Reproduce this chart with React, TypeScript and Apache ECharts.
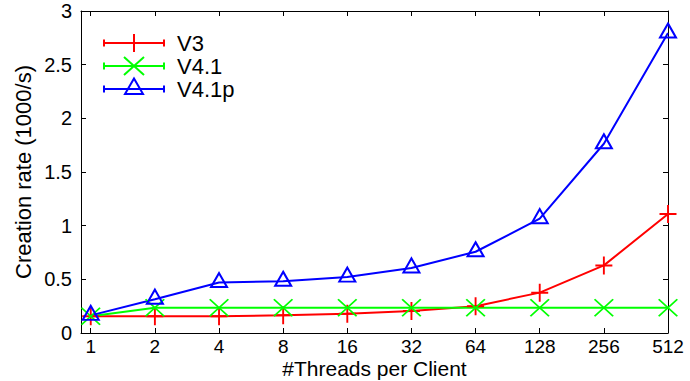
import React, { useEffect, useRef } from "react";
import * as echarts from "echarts";

// Thread counts per client (x) and creation rates in 1000/s (y)
const threads = [1, 2, 4, 8, 16, 32, 64, 128, 256, 512];
const v3 = [0.155, 0.155, 0.155, 0.165, 0.18, 0.205, 0.25, 0.376, 0.63, 1.108];
const v41 = [0.155, 0.235, 0.235, 0.235, 0.235, 0.235, 0.235, 0.235, 0.235, 0.235];
const v41p = [0.164, 0.315, 0.47, 0.482, 0.521, 0.606, 0.757, 1.065, 1.763, 2.795];
const seriesNames = ["V3", "V4.1", "V4.1p"];
const seriesColors = ["#ff0000", "#00ff00", "#0000ff"];

const FONT = "Liberation Sans, Arial, sans-serif";

// x is drawn on a log2 scale: tick positions are the exponents of the thread counts
const xTickValues = threads.map((t) => Math.log2(t));
const X_MIN = Math.log2(0.9);
const X_MAX = Math.log2(512);

// filled-path markers (gnuplot style plus and cross)
const PLUS = "path://M8,0H10V18H8Z M0,8H18V10H0Z";
const CROSS = "path://M0,1L1.4,0L20,17L18.6,18Z M18.6,0L20,1L1.4,18L0,17Z";

const toPoints = (vals: number[]) => threads.map((t, i) => [Math.log2(t), vals[i]]);

function legendGraphics() {
  const rows = [43, 66, 89];
  const els: any[] = [];
  rows.forEach((y, i) => {
    const c = seriesColors[i];
    const lineStyle = { stroke: c, lineWidth: 2 };
    els.push({ type: "line", shape: { x1: 104, y1: y, x2: 164, y2: y }, style: lineStyle });
    els.push({ type: "line", shape: { x1: 104, y1: y - 3.5, x2: 104, y2: y + 3.5 }, style: lineStyle });
    els.push({ type: "line", shape: { x1: 164, y1: y - 3.5, x2: 164, y2: y + 3.5 }, style: lineStyle });
    if (i === 0) {
      els.push({ type: "line", shape: { x1: 134, y1: y - 9, x2: 134, y2: y + 9 }, style: lineStyle });
      els.push({ type: "line", shape: { x1: 125, y1: y, x2: 143, y2: y }, style: lineStyle });
    } else if (i === 1) {
      els.push({ type: "line", shape: { x1: 124, y1: y - 9, x2: 144, y2: y + 9 }, style: lineStyle });
      els.push({ type: "line", shape: { x1: 124, y1: y + 9, x2: 144, y2: y - 9 }, style: lineStyle });
    } else {
      els.push({
        type: "polygon",
        shape: { points: [[134, y - 10.5], [125, y + 5], [143, y + 5]] },
        style: { stroke: c, lineWidth: 2, fill: "none" },
      });
    }
    els.push({
      type: "text",
      x: 177,
      y,
      style: {
        text: seriesNames[i],
        fontSize: 22,
        lineHeight: 20,
        fontFamily: FONT,
        fill: "#000",
        verticalAlign: "middle",
        align: "left",
      },
    });
  });
  return els;
}

export default function App() {
  const ref = useRef<HTMLDivElement>(null);

  useEffect(() => {
    if (!ref.current) return;
    const chart = echarts.init(ref.current, undefined, { renderer: "svg" });

    const axisLine = { show: true, onZero: false, lineStyle: { color: "#000", width: 1 } };
    const tickStyle = { color: "#000", width: 1 };
    const labelStyle = { color: "#000", fontFamily: FONT, fontSize: 20 };
    const nameStyle = { color: "#000", fontFamily: FONT, fontSize: 22 };

    const xBase = {
      type: "value",
      min: X_MIN,
      max: X_MAX,
      axisLine,
      splitLine: { show: false },
    };
    const yBase = {
      type: "value",
      min: 0,
      max: 3,
      interval: 0.5,
      axisLine,
      splitLine: { show: false },
    };

    chart.setOption({
      animation: false,
      backgroundColor: "#fff",
      textStyle: { fontFamily: FONT },
      grid: {
        left: 81,
        top: 11,
        width: 587,
        height: 322,
        containLabel: false,
        outerBoundsMode: "none",
      },
      xAxis: [
        {
          ...xBase,
          position: "bottom",
          axisTick: { show: true, inside: true, length: 5, customValues: xTickValues, lineStyle: tickStyle },
          axisLabel: {
            ...labelStyle,
            fontSize: 19,
            lineHeight: 16,
            margin: 5,
            customValues: xTickValues,
            formatter: (v: number) => String(threads[Math.round(v)]),
          },
          name: "#Threads per Client",
          nameLocation: "middle",
          nameGap: 26,
          nameMoveOverlap: false,
          nameTextStyle: { ...nameStyle, fontSize: 21, lineHeight: 18 },
        },
        {
          ...xBase,
          position: "top",
          axisTick: { show: true, inside: true, length: 5, customValues: xTickValues, lineStyle: tickStyle },
          axisLabel: { show: false },
        },
      ],
      yAxis: [
        {
          ...yBase,
          position: "left",
          axisTick: { show: true, inside: true, length: 5, lineStyle: tickStyle },
          axisLabel: { ...labelStyle, margin: 9 },
          name: "Creation rate (1000/s)",
          nameLocation: "middle",
          nameGap: 47,
          nameMoveOverlap: false,
          nameTextStyle: nameStyle,
        },
        {
          ...yBase,
          position: "right",
          axisTick: { show: true, inside: true, length: 5, lineStyle: tickStyle },
          axisLabel: { show: false },
        },
      ],
      series: [
        {
          name: seriesNames[0],
          type: "line",
          data: toPoints(v3),
          clip: false,
          symbol: PLUS,
          symbolSize: [17, 18],
          lineStyle: { color: seriesColors[0], width: 2 },
          itemStyle: { color: seriesColors[0] },
        },
        {
          name: seriesNames[1],
          type: "line",
          data: toPoints(v41),
          clip: false,
          symbol: CROSS,
          symbolSize: [20, 18],
          lineStyle: { color: seriesColors[1], width: 2 },
          itemStyle: { color: seriesColors[1] },
        },
        {
          name: seriesNames[2],
          type: "line",
          data: toPoints(v41p),
          clip: false,
          symbol: "triangle",
          symbolSize: [16, 14],
          symbolOffset: [0, -2.5],
          lineStyle: { color: seriesColors[2], width: 2 },
          itemStyle: { color: "rgba(0,0,0,0)", borderColor: seriesColors[2], borderWidth: 2 },
        },
      ],
      graphic: legendGraphics(),
    });

    return () => chart.dispose();
  }, []);

  return (
    <div
      ref={ref}
      style={{ position: "fixed", left: 0, top: 0, width: 690, height: 381, background: "#fff" }}
    />
  );
}
